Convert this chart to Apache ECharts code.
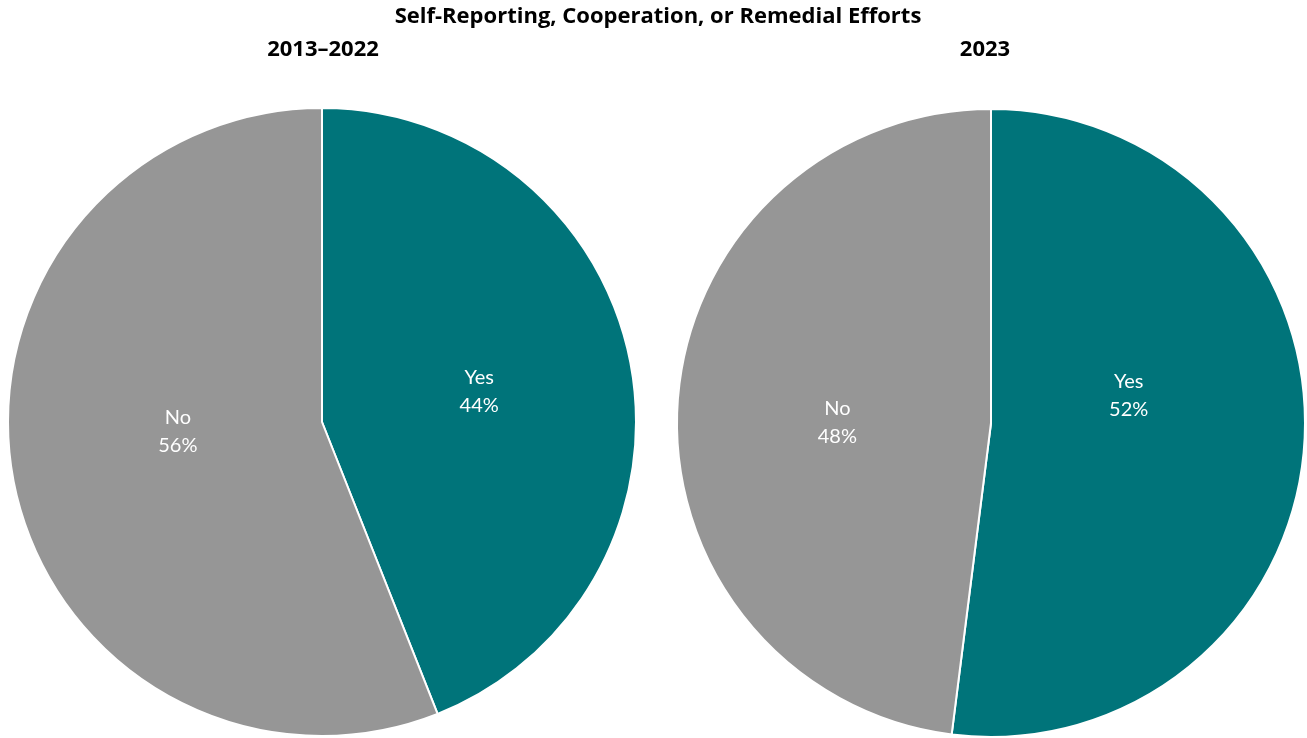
<!DOCTYPE html>
<html>
<head>
<meta charset="utf-8">
<script src="https://cdn.jsdelivr.net/npm/echarts@6/dist/echarts.min.js"></script>
<style>
  html, body { margin: 0; padding: 0; background: #fff; }
  #chart { width: 1307px; height: 738px; }
</style>
</head>
<body>
<div id="chart"></div>
<script>
// Share of cases with self-reporting, cooperation, or remedial efforts
const categories = ['Yes', 'No'];
const periodTitles = ['2013–2022', '2023'];
const values2013to2022 = [44, 56];
const values2023 = [52, 48];

const sliceColors = ['#00747A', '#969696'];
const labelFont = 'Lato, "Open Sans", sans-serif';
const titleFont = '"Open Sans", Lato, sans-serif';

// labelShifts nudges each slice label away from the exact mid-angle point
function makePie(values, center, labelShifts) {
  return {
    type: 'pie',
    center: center,
    radius: [0, 314],
    startAngle: 90,
    clockwise: true,
    silent: true,
    label: {
      show: true,
      position: 'inside',
      formatter: '{b}\n{c}%',
      color: '#fff',
      fontFamily: labelFont,
      fontSize: 20,
      lineHeight: 28
    },
    labelLine: { show: false },
    itemStyle: { borderColor: '#fff', borderWidth: 2 },
    data: categories.map((name, i) => ({
      name: name,
      value: values[i],
      itemStyle: { color: sliceColors[i] },
      label: { offset: labelShifts[i] }
    }))
  };
}

const titleStyle = { fontFamily: titleFont, fontWeight: 'bold', fontSize: 22, color: '#000' };

const chart = echarts.init(document.getElementById('chart'), null, { renderer: 'canvas' });
chart.setOption({
  backgroundColor: '#fff',
  animation: false,
  title: [
    {
      text: 'Self-Reporting, Cooperation, or Remedial Efforts',
      left: 653, top: 1, textAlign: 'center',
      textStyle: titleStyle
    },
    {
      text: periodTitles[0],
      left: 318, top: 34, textAlign: 'center',
      textStyle: titleStyle
    },
    {
      text: periodTitles[1],
      left: 980, top: 34, textAlign: 'center',
      textStyle: titleStyle
    }
  ],
  series: [
    makePie(values2013to2022, [322, 422], [[0, 0], [13, -20]]),
    makePie(values2023, [991, 423], [[-22, -37], [6, 10]])
  ]
});
</script>
</body>
</html>
